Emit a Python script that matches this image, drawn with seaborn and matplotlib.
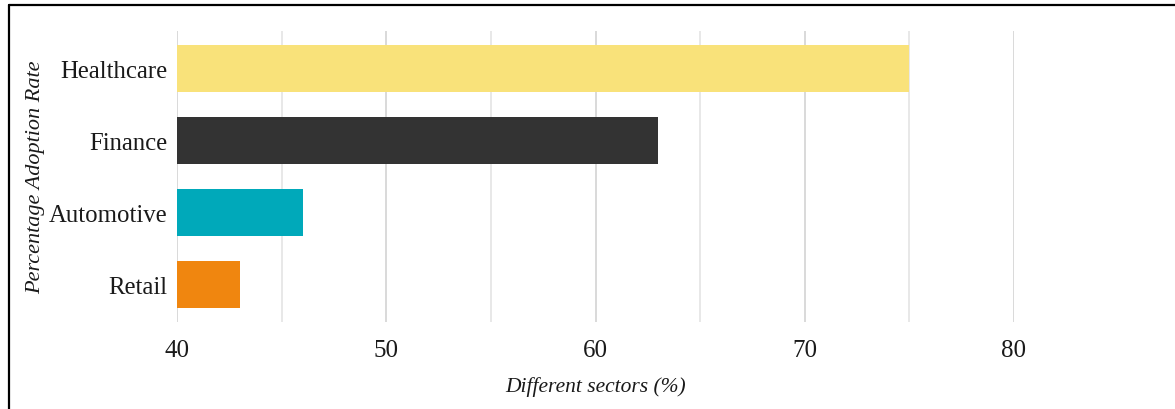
import matplotlib
matplotlib.use("Agg")
import matplotlib.pyplot as plt
import seaborn as sns
import pandas as pd
from matplotlib.lines import Line2D

sectors = ["Healthcare", "Finance", "Automotive", "Retail"]
adoption = [75, 63, 46, 43]
colors = ["#F9E27A", "#333333", "#00A9BA", "#F0860F"]
major_ticks = [40, 50, 60, 70, 80]
minor_ticks = [45, 55, 65, 75]

df = pd.DataFrame({"sector": sectors, "rate": adoption})

sns.set_theme(style="white")
plt.rcParams["font.family"] = ["Liberation Serif", "DejaVu Serif"]

W, H = 1175, 410
fig = plt.figure(figsize=(W / 100, H / 100), dpi=100)
ax = fig.add_axes([177 / W, 1 - 323 / H, (1014 - 177) / W, (323 - 32) / H])

sns.barplot(data=df, y="sector", x="rate", hue="sector", palette=colors,
            orient="h", ax=ax, width=0.64, legend=False, saturation=1,
            edgecolor="none", zorder=3)

ax.set_xlim(40, 80)
ax.set_ylim(3.52, -0.52)
ax.set_xticks(major_ticks)
ax.set_xticks(minor_ticks, minor=True)
ax.grid(False)
for v in major_ticks:
    ax.axvline(v, color="#cfcfcf", lw=1.1, zorder=0)
for v in minor_ticks:
    ax.axvline(v, color="#e2e2e2", lw=1.1, zorder=0)

for s in ax.spines.values():
    s.set_visible(False)
ax.tick_params(axis="both", which="both", length=0)
ax.tick_params(axis="y", labelsize=17.8, pad=7, labelcolor="#1a1a1a")
ax.tick_params(axis="x", labelsize=18, pad=12, labelcolor="#1a1a1a")

ax.set_xlabel("Different sectors (%)", fontsize=15.5, style="italic", color="#1a1a1a")
ax.set_ylabel("Percentage Adoption Rate", fontsize=16, style="italic", color="#1a1a1a")
ax.xaxis.set_label_coords(0.5, -(387 - 323) / (323 - 32), transform=ax.transAxes)
ax.yaxis.set_label_coords(-(177 - 36) / (1014 - 177), 0.5, transform=ax.transAxes)
ax.xaxis.label.set_verticalalignment("center")
ax.yaxis.label.set_verticalalignment("center")

# frame lines (left and top)
fig.add_artist(Line2D([8.5 / W, 8.5 / W], [0, 1 - 5.5 / H], transform=fig.transFigure,
                      color="black", lw=1.6))
fig.add_artist(Line2D([8.5 / W, 1], [1 - 5.5 / H, 1 - 5.5 / H], transform=fig.transFigure,
                      color="black", lw=1.6))

fig.savefig("out.png", dpi=100)
